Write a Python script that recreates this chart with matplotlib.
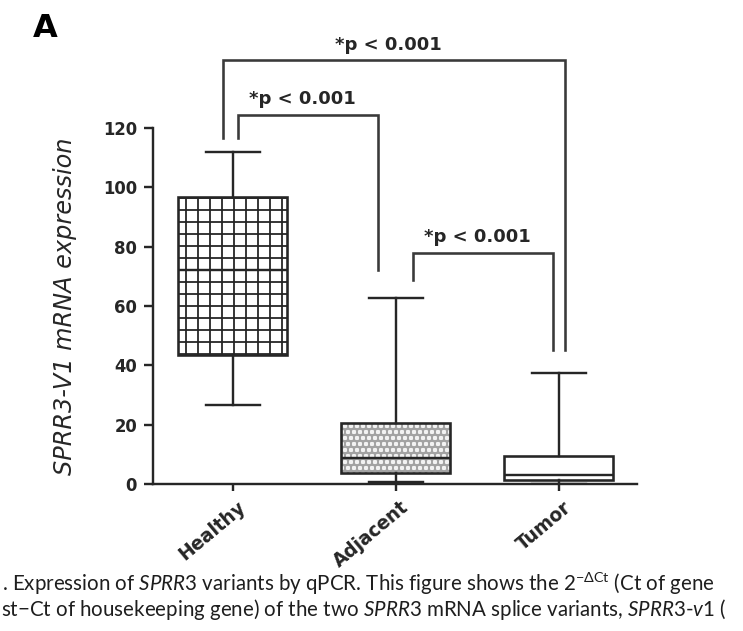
import matplotlib
matplotlib.use("Agg")
import matplotlib.pyplot as plt
from matplotlib.patches import PathPatch
from matplotlib.transforms import ScaledTranslation

# ---- data ----
categories = ["Healthy", "Adjacent", "Tumor"]
whisker_low = [26.6, 0.8, 0.0]
q1_values = [43.5, 3.8, 1.2]
median_values = [72.1, 8.9, 3.0]
q3_values = [96.8, 20.7, 9.6]
whisker_high = [111.9, 62.7, 37.3]
y_ticks = [0, 20, 40, 60, 80, 100, 120]
y_label = "SPRR3-V1 mRNA expression"
p_labels = ["*p < 0.001", "*p < 0.001", "*p < 0.001"]
panel_label = "A"
caption_1 = (r". Expression of $\mathit{SPRR3}$ variants by qPCR. This figure shows the "
             r"2$^{-\Delta\mathrm{Ct}}$ (Ct of gene")
caption_2 = (r"st$-$Ct of housekeeping gene) of the two $\mathit{SPRR3}$ mRNA splice variants, "
             r"$\mathit{SPRR3}$-$\mathit{v1}$ (")

plt.rcParams["hatch.linewidth"] = 1.8
plt.rcParams["mathtext.fontset"] = "custom"
plt.rcParams["mathtext.rm"] = "Lato"
plt.rcParams["mathtext.it"] = "Lato:italic"
plt.rcParams["mathtext.bf"] = "Lato:bold"

DPI = 72
fig = plt.figure(figsize=(743 / DPI, 631 / DPI), dpi=DPI)
ax = fig.add_axes([153 / 743, 1 - 484 / 631, (637 - 153) / 743, (484 - 128) / 631])

ink = "#262626"
positions = [1, 2, 3]
stats = []
for i, name in enumerate(categories):
    stats.append(dict(label=name, whislo=whisker_low[i], q1=q1_values[i],
                      med=median_values[i], q3=q3_values[i], whishi=whisker_high[i]))

bp = ax.bxp(stats, positions=positions, widths=0.67, capwidths=0.33,
            showfliers=False, patch_artist=True,
            boxprops=dict(linewidth=2.4, edgecolor=ink),
            whiskerprops=dict(linewidth=2.4, color=ink),
            capprops=dict(linewidth=2.4, color=ink),
            medianprops=dict(linewidth=2.4, color=ink))

fills = ["white", "#a2a2a2", "white"]
hatches = ["+", "oo", None]
hatch_cols = [ink, "#f2f2f2", ink]
for box, fc, h, hc in zip(bp["boxes"], fills, hatches, hatch_cols):
    box.set_facecolor(fc)
    box.set_edgecolor(hc)
    box.set_hatch(h)
    box.set_linewidth(0)
    ax.add_patch(PathPatch(box.get_path(), transform=box.get_transform(),
                           fill=False, edgecolor=ink, linewidth=2.6, zorder=box.get_zorder() + 0.1))

ax.set_xlim(0.51, 3.48)
ax.set_ylim(0, 120)
ax.set_yticks(y_ticks)
ax.set_xticks(positions)

for side in ["top", "right"]:
    ax.spines[side].set_visible(False)
for side in ["left", "bottom"]:
    ax.spines[side].set_linewidth(2.4)
    ax.spines[side].set_color(ink)
ax.tick_params(axis="y", length=9, width=2.4, pad=7, color=ink)
ax.tick_params(axis="x", length=7, width=2.4, pad=4, color=ink)

ax.set_xticklabels(categories, rotation=40, ha="right", va="center",
                   rotation_mode="anchor", fontsize=18.5, fontweight="bold",
                   family="DejaVu Sans", color=ink)
for lbl in ax.get_xticklabels():
    lbl.set_transform(lbl.get_transform() + ScaledTranslation(10 / 72, -10 / 72, fig.dpi_scale_trans))
for lbl in ax.get_yticklabels():
    lbl.set_fontsize(16.5)
    lbl.set_fontweight("bold")
    lbl.set_family("DejaVu Sans")
    lbl.set_color(ink)

ax.set_ylabel(y_label, fontsize=24, style="italic", family="DejaVu Sans",
              color=ink, labelpad=26)

# significance brackets: (left x, right x, bar height, left end, right end)
brackets = [(0.939, 3.037, 142.9, 116.6, 45.2),
            (1.031, 1.890, 124.4, 116.6, 72.1),
            (2.104, 2.963, 77.9, 68.8, 45.2)]
for (xl, xr, yh, yl, yr), txt in zip(brackets, p_labels):
    ax.plot([xl, xl, xr, xr], [yl, yh, yh, yr], color="#3a3a3a", lw=2.6,
            clip_on=False, solid_joinstyle="miter")
    ax.text((xl + xr) / 2 - 0.035, yh + 2.2, txt, ha="center", va="bottom",
            fontsize=18, fontweight="bold", family="DejaVu Sans", color=ink,
            clip_on=False)

fig.text(33 / 743, 1 - 37 / 631, panel_label, fontsize=32, fontweight="bold",
         family="DejaVu Sans", color="black", ha="left", va="baseline")

fig.text(2 / 743, 1 - 591 / 631, caption_1, fontsize=20.5, family="Lato",
         color="#1e1e1e", ha="left", va="baseline")
fig.text(1 / 743, 1 - 616 / 631, caption_2, fontsize=20.5, family="Lato",
         color="#1e1e1e", ha="left", va="baseline")

fig.savefig("out.png", dpi=DPI)
